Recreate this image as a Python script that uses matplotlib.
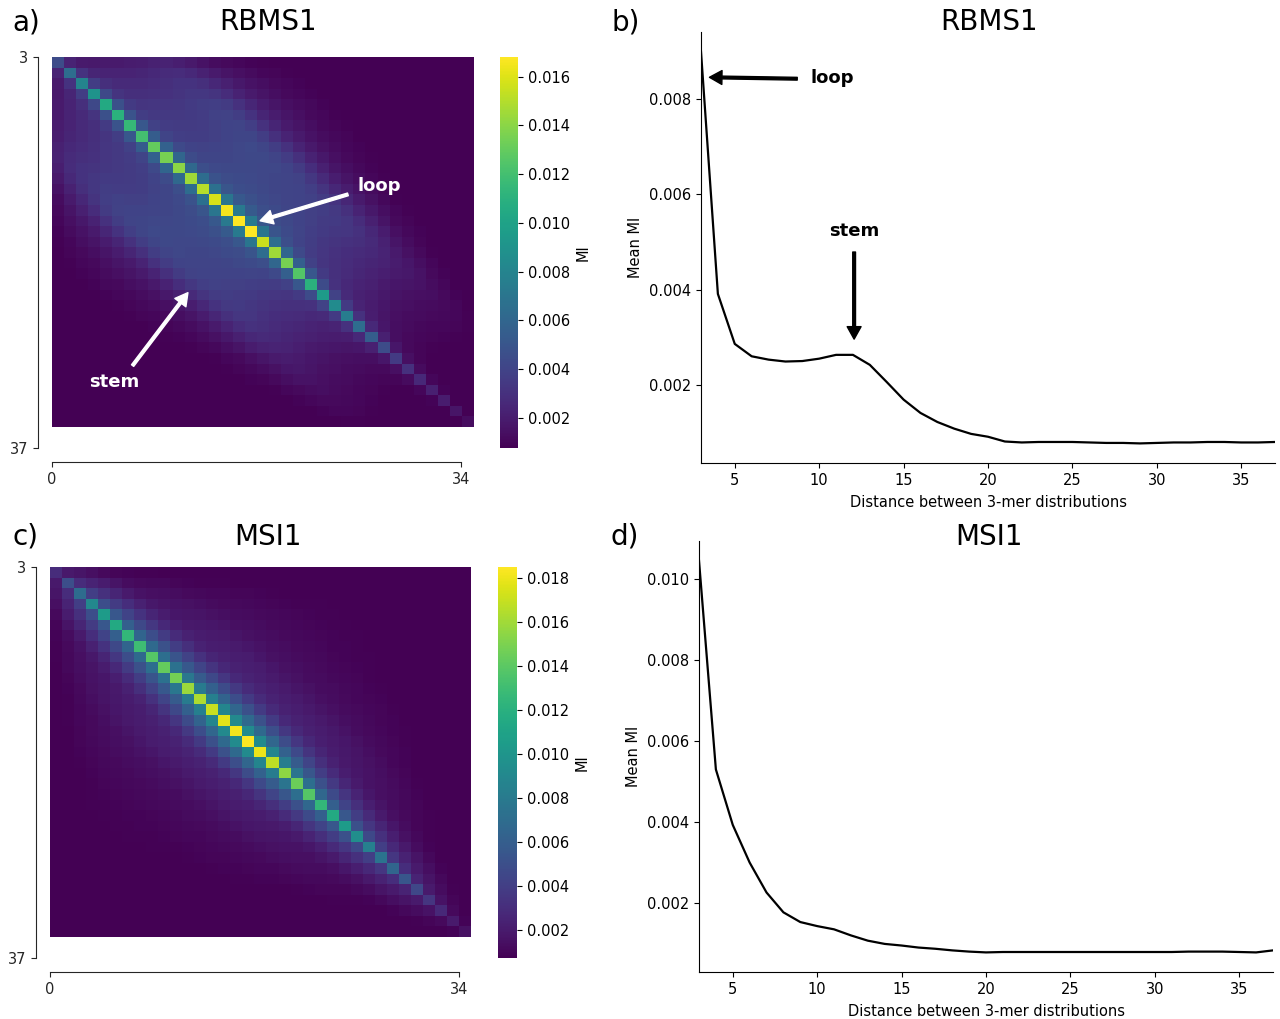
"""MI heatmaps and mean MI per distance for RBMS1 and MSI1"""
import matplotlib
matplotlib.use('Agg')
import matplotlib.pyplot as plt
import numpy as np

W, H = 1280, 1019

# distance between 3-mer distributions (x of the line plots)
distance = np.arange(3, 38)

# mean MI per distance, read off panels b) and d)
rbms1_mean_mi = [0.00900, 0.00391, 0.00286, 0.00260, 0.00253, 0.00249, 0.00250,
                 0.00255, 0.00263, 0.00263, 0.00242, 0.00206, 0.00169, 0.00141,
                 0.00122, 0.00108, 0.00097, 0.00091, 0.00081, 0.00079, 0.00080,
                 0.00080, 0.00080, 0.00079, 0.00078, 0.00078, 0.00077, 0.00078,
                 0.00079, 0.00079, 0.00080, 0.00080, 0.00079, 0.00079, 0.00080]
msi1_mean_mi = [0.01046, 0.00530, 0.00393, 0.00300, 0.00226, 0.00177, 0.00153,
                0.00143, 0.00135, 0.00120, 0.00107, 0.00099, 0.00095, 0.00090,
                0.00087, 0.00083, 0.00080, 0.00078, 0.00079, 0.00079, 0.00079,
                0.00079, 0.00079, 0.00079, 0.00079, 0.00079, 0.00079, 0.00079,
                0.00079, 0.00080, 0.00080, 0.00080, 0.00079, 0.00078, 0.00083]

# main diagonal of the heatmaps (cell 0..34), read off panels a) and c)
rbms1_diag = [0.0045, 0.0065, 0.0080, 0.0090, 0.0105, 0.0110, 0.0115, 0.0120,
              0.0130, 0.0135, 0.0140, 0.0145, 0.0150, 0.0158, 0.0165, 0.0168,
              0.0168, 0.0155, 0.0145, 0.0135, 0.0125, 0.0110, 0.0095, 0.0085,
              0.0075, 0.0065, 0.0055, 0.0045, 0.0035, 0.0030, 0.0026, 0.0022,
              0.0020, 0.0017, 0.0013]
msi1_diag = [0.0030, 0.0050, 0.0070, 0.0090, 0.0105, 0.0115, 0.0125, 0.0130,
             0.0138, 0.0143, 0.0148, 0.0158, 0.0163, 0.0170, 0.0178, 0.0182,
             0.0185, 0.0180, 0.0168, 0.0155, 0.0145, 0.0138, 0.0125, 0.0115,
             0.0105, 0.0095, 0.0085, 0.0075, 0.0065, 0.0055, 0.0045, 0.0035,
             0.0028, 0.0020, 0.0015]

rbms1_range = (0.00077, 0.0168)
msi1_range = (0.00073, 0.0185)

FS = 10.5


def build_matrix(diag, band):
    diag = np.asarray(diag)
    band = np.asarray(band)
    n = len(diag)
    idx = np.arange(n)
    offs = np.abs(np.subtract.outer(idx, idx))
    w = diag / band[0]
    return band[offs] * np.sqrt(np.outer(w, w))


def box(l, t, r, b):
    return [l / W, 1 - b / H, (r - l) / W, (b - t) / H]


def heatmap(ax, cax, mat, vrange, ticks):
    n = mat.shape[0]
    im = ax.imshow(mat, cmap='viridis', vmin=vrange[0], vmax=vrange[1],
                   extent=(0, n, n, 0), aspect='auto', interpolation='nearest')
    ax.set_xlim(0, n)
    ax.set_ylim(37, 0)
    ax.set_xticks([0, 34])
    ax.set_xticklabels(['0', '34'])
    ax.set_yticks([0, 37])
    ax.set_yticklabels(['3', '37'])
    for s in ['top', 'right']:
        ax.spines[s].set_visible(False)
    ax.spines['left'].set_position(('outward', 10))
    ax.spines['bottom'].set_position(('outward', 10))
    ax.spines['left'].set_bounds(0, 37)
    ax.spines['bottom'].set_bounds(0, 34)
    for s in ['left', 'bottom']:
        ax.spines[s].set_color('#262626')
    ax.tick_params(labelsize=FS, colors='#262626')
    cb = plt.colorbar(im, cax=cax, ticks=ticks)
    cb.outline.set_visible(False)
    cb.ax.tick_params(labelsize=FS)
    cb.set_label('MI', fontsize=FS)


def lineplot(ax, y):
    ax.plot(distance, y, color='black', lw=1.6)
    ax.set_xlim(3, 37)
    ax.set_xticks([5, 10, 15, 20, 25, 30, 35])
    for s in ['top', 'right']:
        ax.spines[s].set_visible(False)
    ax.tick_params(labelsize=FS)
    ax.set_ylabel('Mean MI', fontsize=FS)
    ax.set_xlabel('Distance between 3-mer distributions', fontsize=FS, labelpad=5)


fig = plt.figure(figsize=(W / 100, H / 100), dpi=100)

ax_a = fig.add_axes(box(52, 57, 473, 448))
cax_a = fig.add_axes(box(500, 57, 518, 448))
ax_b = fig.add_axes(box(701, 32, 1275, 463))
ax_c = fig.add_axes(box(50, 567, 471, 958))
cax_c = fig.add_axes(box(498, 567, 517, 958))
ax_d = fig.add_axes(box(699, 541, 1273, 972))

heatmap(ax_a, cax_a, build_matrix(rbms1_diag, rbms1_mean_mi), rbms1_range,
        np.arange(0.002, 0.0161, 0.002))
heatmap(ax_c, cax_c, build_matrix(msi1_diag, msi1_mean_mi), msi1_range,
        np.arange(0.002, 0.0181, 0.002))
lineplot(ax_b, rbms1_mean_mi)
lineplot(ax_d, msi1_mean_mi)

# annotations
white_arrow = dict(facecolor='white', edgecolor='white', width=2, headwidth=10,
                   headlength=9, shrink=0)
black_arrow = dict(facecolor='black', edgecolor='black', width=2, headwidth=10,
                   headlength=9, shrink=0)
ax_a.annotate('', xy=(17.3, 15.5), xytext=(24.6, 13.0), arrowprops=white_arrow)
ax_a.text(25.4, 12.2, 'loop', color='white', fontsize=13, fontweight='bold',
          ha='left', va='center')
ax_a.annotate('', xy=(11.3, 22.3), xytext=(6.7, 29.2), arrowprops=white_arrow)
ax_a.text(5.2, 30.8, 'stem', color='white', fontsize=13, fontweight='bold',
          ha='center', va='center')

ax_b.annotate('', xy=(3.5, 0.00846), xytext=(8.7, 0.00843), arrowprops=black_arrow)
ax_b.text(9.5, 0.00844, 'loop', color='black', fontsize=13, fontweight='bold',
          ha='left', va='center')
ax_b.annotate('', xy=(12.07, 0.00296), xytext=(12.07, 0.00479), arrowprops=black_arrow)
ax_b.text(12.1, 0.00523, 'stem', color='black', fontsize=13, fontweight='bold',
          ha='center', va='center')

# titles and panel letters
for x, y, s in [(268, 22, 'RBMS1'), (989, 22, 'RBMS1'), (268, 537, 'MSI1'), (989, 537, 'MSI1')]:
    fig.text(x / W, 1 - y / H, s, fontsize=20, ha='center', va='center')
for x, y, s in [(12, 22, 'a)'), (611, 22, 'b)'), (12, 537, 'c)'), (611, 537, 'd)')]:
    fig.text(x / W, 1 - y / H, s, fontsize=20, ha='left', va='center')

fig.savefig('out.png', dpi=100)
